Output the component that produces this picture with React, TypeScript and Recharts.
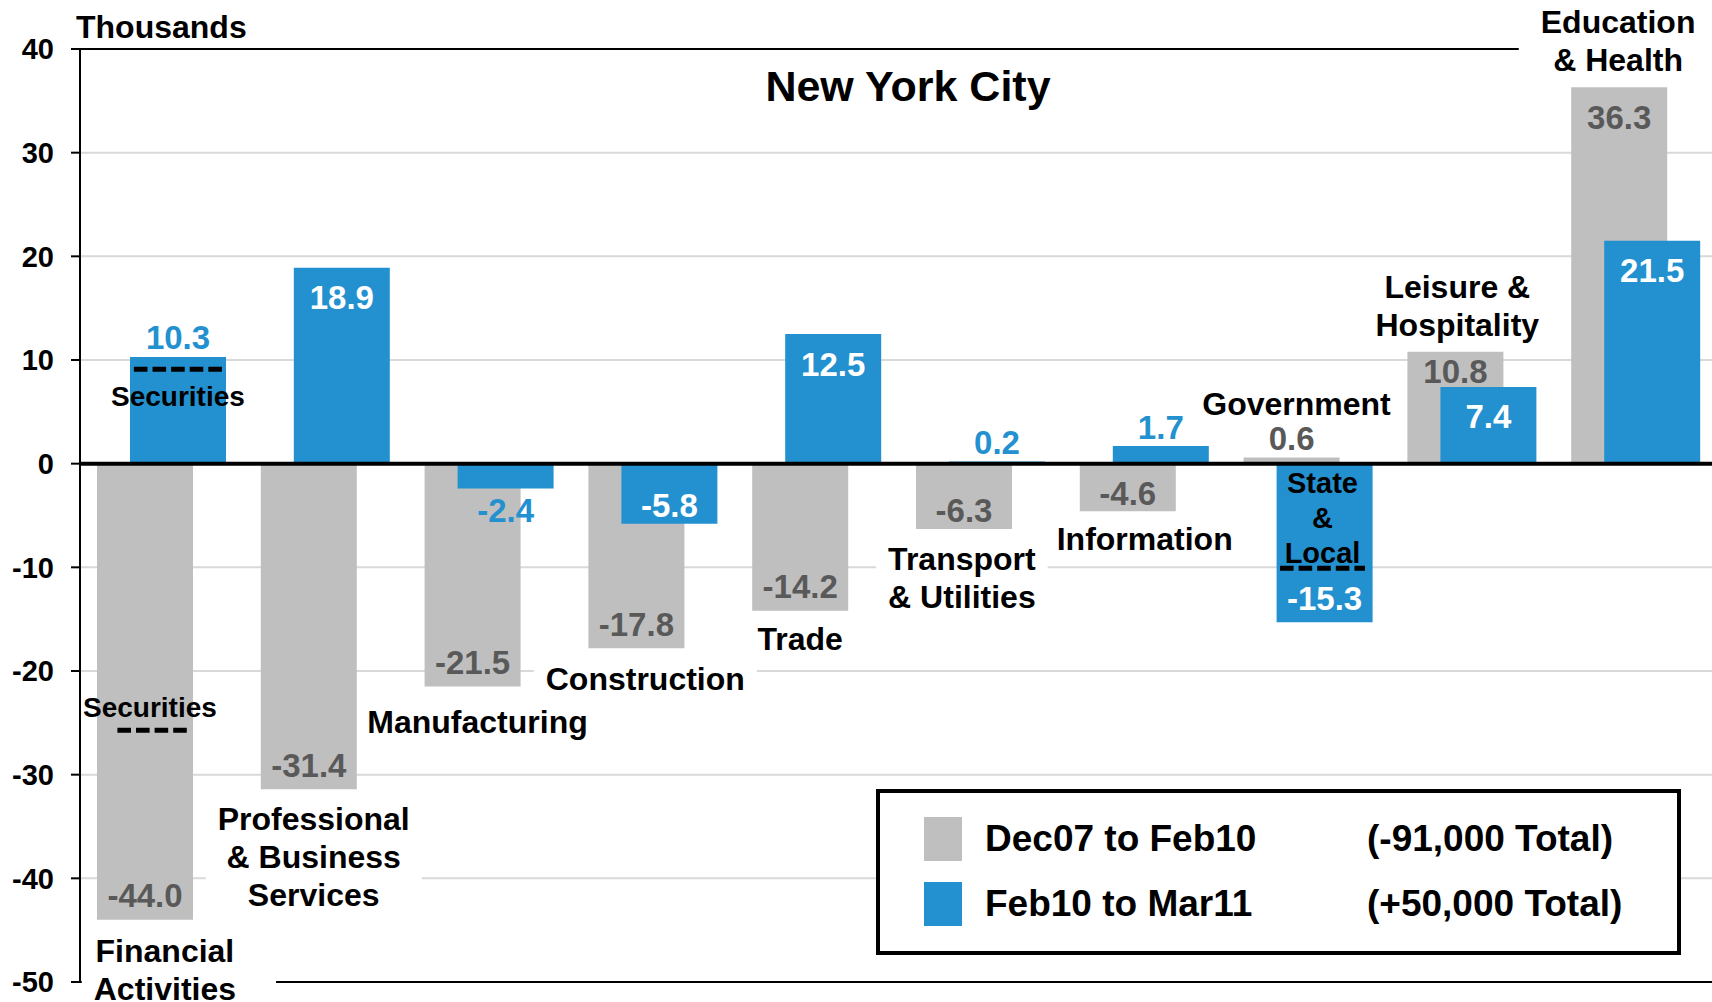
import React from 'react';
import {
  BarChart,
  Bar,
  XAxis,
  YAxis,
  CartesianGrid,
  ReferenceLine,
  ReferenceDot,
  LabelList,
  Legend,
} from 'recharts';

const categories = [
  'Financial Activities',
  'Professional & Business Services',
  'Manufacturing',
  'Construction',
  'Trade',
  'Transport & Utilities',
  'Information',
  'Government',
  'Leisure & Hospitality',
  'Education & Health',
];
const dec07ToFeb10 = [-44.0, -31.4, -21.5, -17.8, -14.2, -6.3, -4.6, 0.6, 10.8, 36.3];
const feb10ToMar11 = [10.3, 18.9, -2.4, -5.8, 12.5, 0.2, 1.7, -15.3, 7.4, 21.5];
const seriesNames = ['Dec07 to Feb10', 'Feb10 to Mar11'];
const seriesTotals = ['(-91,000 Total)', '(+50,000 Total)'];
const yTicks = [40, 30, 20, 10, 0, -10, -20, -30, -40, -50];

const GRAY = '#BFBFBF';
const BLUE = '#2391D0';
const LABEL_GRAY = '#595959';
const FONT = '"Liberation Sans", Arial, sans-serif';

const data = categories.map((name, i) => ({
  name,
  early: dec07ToFeb10[i],
  recent: feb10ToMar11[i],
}));

// which value labels sit outside the bar end
const outsideLabels: Record<string, number[]> = { early: [7], recent: [0, 2, 5, 6] };
const tightLabels: Record<string, number[]> = { early: [8], recent: [] };

// category annotations, anchored at (category, y value)
type Note = {
  cat: number;
  at: number;
  dx: number;
  lines: string[];
  size?: number;
  lh?: number;
  box?: boolean;
  pad?: number;
  padR?: number;
  dash?: { dy: number; width: number; dx?: number };
};

const notes: Note[] = [
  { cat: 0, at: 6.5, dx: 16, lines: ['Securities'], size: 28, box: false, dash: { dy: -27, width: 88 } },
  { cat: 0, at: -23.5, dx: -12, lines: ['Securities'], size: 28, box: false, dash: { dy: 23, width: 71, dx: 3 } },
  { cat: 0, at: -47.0, dx: 3, lines: ['Financial', 'Activities'], pad: 12, padR: 40 },
  { cat: 1, at: -34.3, dx: -12, lines: ['Professional', '& Business', 'Services'] },
  { cat: 2, at: -24.9, dx: -12, lines: ['Manufacturing'], pad: 6 },
  { cat: 3, at: -20.8, dx: -8, lines: ['Construction'] },
  { cat: 4, at: -16.9, dx: -17, lines: ['Trade'] },
  { cat: 5, at: -9.2, dx: -19, lines: ['Transport', '& Utilities'] },
  { cat: 6, at: -7.25, dx: 0, lines: ['Information'], pad: 8 },
  { cat: 7, at: 5.8, dx: -12, lines: ['Government'], pad: 6 },
  { cat: 7, at: -1.9, dx: 14, lines: ['State', '&', 'Local'], size: 29, lh: 35, box: false, dash: { dy: 85, width: 85 } },
  { cat: 8, at: 17.0, dx: -15, lines: ['Leisure &', 'Hospitality'] },
  { cat: 9, at: 42.6, dx: -18, lines: ['Education', '& Health'], pad: 22 },
];

let measureCtx: CanvasRenderingContext2D | null = null;
const textWidth = (t: string, size: number) => {
  if (!measureCtx) measureCtx = document.createElement('canvas').getContext('2d');
  if (!measureCtx) return t.length * size * 0.56;
  measureCtx.font = `bold ${size}px "Liberation Sans"`;
  return measureCtx.measureText(t).width;
};

function NoteLabel(props: any) {
  const { note } = props;
  const vb = props.viewBox || { x: props.x, y: props.y, width: 0, height: 0 };
  const size = note.size ?? 32;
  const lh = note.lh ?? 38;
  const cx = vb.x + (vb.width || 0) / 2 + note.dx;
  const cy = vb.y + (vb.height || 0) / 2;
  const w = Math.max(...note.lines.map((l: string) => textWidth(l, size)));
  const padL = note.pad ?? 12;
  const padR = note.padR ?? padL;
  const n = note.lines.length;
  return (
    <g>
      {note.box !== false && (
        <rect
          x={cx - w / 2 - padL}
          y={cy - lh / 2 - 2}
          width={w + padL + padR}
          height={(n - 1) * lh + lh + 4}
          fill="#fff"
        />
      )}
      {note.lines.map((line: string, k: number) => (
        <text
          key={k}
          x={cx}
          y={cy + k * lh}
          textAnchor="middle"
          dominantBaseline="central"
          fontFamily={FONT}
          fontWeight={700}
          fontSize={size}
          fill="#000"
        >
          {line}
        </text>
      ))}
      {note.dash && (
        <line
          x1={cx + (note.dash.dx ?? 0) - note.dash.width / 2}
          x2={cx + (note.dash.dx ?? 0) + note.dash.width / 2}
          y1={cy + note.dash.dy}
          y2={cy + note.dash.dy}
          stroke="#000"
          strokeWidth={5}
          strokeDasharray="13.6 5"
        />
      )}
    </g>
  );
}

const valueLabel = (key: 'early' | 'recent') => (props: any) => {
  const { x, y, width, height, value, index } = props;
  if (value == null) return null;
  const v = Number(value);
  const top = Math.min(y, y + height);
  const bottom = Math.max(y, y + height);
  const cx = x + width / 2;
  const outside = outsideLabels[key].includes(index);
  let cy: number;
  if (v >= 0) {
    cy = outside ? top - 19 : top + (tightLabels[key].includes(index) ? 20 : 30);
  } else {
    cy = outside ? bottom + 22 : bottom - (bottom - top > 100 ? 24 : 18);
  }
  const fill = key === 'early' ? LABEL_GRAY : outside ? BLUE : '#fff';
  return (
    <text
      x={cx}
      y={cy}
      textAnchor="middle"
      dominantBaseline="central"
      fontFamily={FONT}
      fontWeight={700}
      fontSize={33}
      fill={fill}
    >
      {v.toFixed(1)}
    </text>
  );
};

function LegendBox({ payload }: any) {
  const items = payload || [];
  return (
    <div
      style={{
        width: 805,
        height: 166,
        boxSizing: 'border-box',
        border: '4px solid #000',
        background: '#fff',
        position: 'relative',
        fontFamily: FONT,
        fontWeight: 700,
        fontSize: 37,
        color: '#000',
      }}
    >
      {items.map((item: any, i: number) => {
        const centre = (i === 0 ? 50 : 115) - 4;
        return (
          <React.Fragment key={item.value}>
            <div
              style={{
                position: 'absolute',
                left: 44,
                top: centre - 22,
                width: 38,
                height: 44,
                background: item.color,
              }}
            />
            <div style={{ position: 'absolute', left: 105, top: centre - 21, lineHeight: '42px', whiteSpace: 'nowrap' }}>
              {item.value}
            </div>
            <div style={{ position: 'absolute', left: 487, top: centre - 21, lineHeight: '42px', whiteSpace: 'nowrap' }}>
              {seriesTotals[i]}
            </div>
          </React.Fragment>
        );
      })}
    </div>
  );
}

export default function App() {
  return (
    <div
      style={{
        position: 'absolute',
        left: 0,
        top: 0,
        width: 1712,
        height: 1002,
        overflow: 'hidden',
        background: '#fff',
      }}
    >
      <BarChart
        width={1718}
        height={1002}
        data={data}
        margin={{ top: 49, right: 0, bottom: 20, left: 0 }}
        barSize={96}
        barGap={-63}
      >
        <CartesianGrid vertical={false} stroke="#D9D9D9" strokeWidth={2} />
        <XAxis dataKey="name" hide />
        <YAxis
          width={80}
          domain={[-50, 40]}
          ticks={yTicks}
          interval={0}
          tickSize={9}
          tickMargin={17}
          axisLine={{ stroke: '#000', strokeWidth: 2 }}
          tickLine={{ stroke: '#000', strokeWidth: 2 }}
          tick={{ fill: '#000', fontFamily: FONT, fontWeight: 700, fontSize: 29 }}
          label={(p: any) => {
            const vb = p.viewBox || { x: 0, y: 49, width: 80 };
            return (
              <text
                x={vb.x + vb.width - 4}
                y={vb.y - 22}
                dominantBaseline="central"
                fontFamily={FONT}
                fontWeight={700}
                fontSize={32}
                fill="#000"
              >
                Thousands
              </text>
            );
          }}
        />
        <Bar dataKey="early" name={seriesNames[0]} fill={GRAY} isAnimationActive={false}>
          <LabelList dataKey="early" content={valueLabel('early')} />
        </Bar>
        <Bar dataKey="recent" name={seriesNames[1]} fill={BLUE} isAnimationActive={false}>
          <LabelList dataKey="recent" content={valueLabel('recent')} />
        </Bar>
        <ReferenceLine y={0} stroke="#000" strokeWidth={4} />
        <ReferenceLine y={-50} stroke="#000" strokeWidth={2} />
        <ReferenceLine
          y={40}
          stroke="#000"
          strokeWidth={2}
          label={(p: any) => {
            const vb = p.viewBox || { x: 80, y: 49, width: 1638 };
            return (
              <text
                x={vb.x + vb.width / 2 + 9}
                y={vb.y + 37}
                textAnchor="middle"
                dominantBaseline="central"
                fontFamily={FONT}
                fontWeight={700}
                fontSize={43}
                fill="#000"
              >
                New York City
              </text>
            );
          }}
        />
        {notes.map((note, i) => (
          <ReferenceDot
            key={i}
            x={categories[note.cat]}
            y={note.at}
            r={1}
            fill="none"
            stroke="none"
            ifOverflow="visible"
            label={(p: any) => <NoteLabel {...p} note={note} />}
          />
        ))}
        <Legend
          layout="vertical"
          align="center"
          verticalAlign="middle"
          wrapperStyle={{ left: 876, top: 789, width: 805, height: 166 }}
          content={(p: any) => <LegendBox payload={p.payload} />}
        />
      </BarChart>
    </div>
  );
}
